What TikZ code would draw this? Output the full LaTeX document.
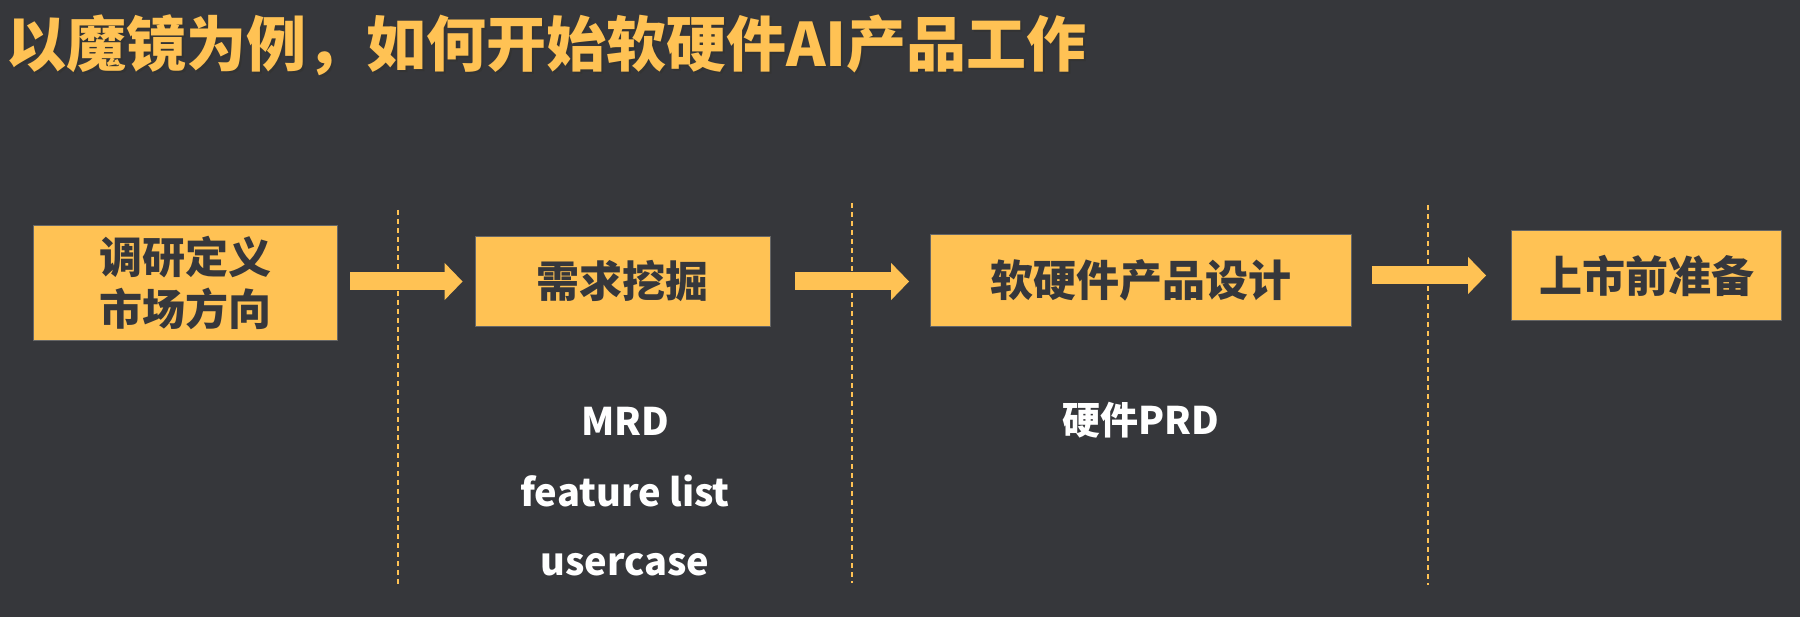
\documentclass[tikz,border=0pt]{standalone}
\usepackage{fontspec,tikz}
\usetikzlibrary{arrows.meta}
\newfontfamily\cjk{Noto Sans CJK SC}
\setmainfont{Noto Sans CJK SC}

\definecolor{bgdark}{HTML}{36373B}
\definecolor{gold}{HTML}{FFC254}
\definecolor{ink}{HTML}{36373B}

\tikzset{
  stage/.style={fill=gold,draw=black!60,line width=0.8pt,inner sep=0pt,align=center,
    text=ink,font=\fontsize{43}{52}\selectfont\bfseries},
  flow/.style={draw=gold,line width=18pt,-{Triangle[length=18pt,width=36pt]}},
  divider/.style={draw=gold,line width=2.4pt,dash pattern=on 5pt off 4pt},
  deliv/.style={anchor=base,inner sep=0pt,text=white,font=\fontsize{38}{46}\selectfont\bfseries}
}

\begin{document}
\begin{tikzpicture}[x=1pt,y=-1pt]
\fill[bgdark] (0,0) rectangle (1800,617);
\path[use as bounding box] (0,0) rectangle (1800,617);
% title
\node[anchor=base west,inner sep=0pt,text=black!80,font=\fontsize{60}{68}\selectfont\bfseries] at (8,69) {以魔镜为例，如何开始软硬件AI产品工作};
\node[anchor=base west,inner sep=0pt,text=gold,font=\fontsize{60}{68}\selectfont\bfseries] (title) at (6,67) {以魔镜为例，如何开始软硬件AI产品工作};
% stages
\node[stage,minimum width=304pt,minimum height=115pt] (research) at (185,282.5) {调研定义\\市场方向};
\node[stage,minimum width=295pt,minimum height=90pt] (demand) at (622.5,281.5) {需求挖掘};
\node[stage,minimum width=421pt,minimum height=92pt] (design) at (1141,280) {软硬件产品设计};
\node[stage,minimum width=270pt,minimum height=90pt] (launch) at (1646.5,275.5) {上市前准备};
% arrows
\draw[flow,shorten <=13pt,shorten >=12pt] (research.east |- demand.west) -- (demand.west);
\draw[flow,shorten <=25pt,shorten >=21pt] (demand.east) -- (design.west |- demand.east);
\draw[flow,shorten <=20pt,shorten >=25pt] (design.east |- launch.west) -- (launch.west);
% dividers
\draw[divider] (398,210) -- (398,586);
\draw[divider] (852,203) -- (852,583);
\draw[divider] (1428,205) -- (1428,585);
% deliverables
\node[deliv] (mrd) at (625,436) {MRD};
\node[deliv] (features) at (625,506) {feature list};
\node[deliv] (usecase) at (625,575) {usercase};
\node[deliv] (prd) at (1141,435) {硬件PRD};
\end{tikzpicture}
\end{document}
